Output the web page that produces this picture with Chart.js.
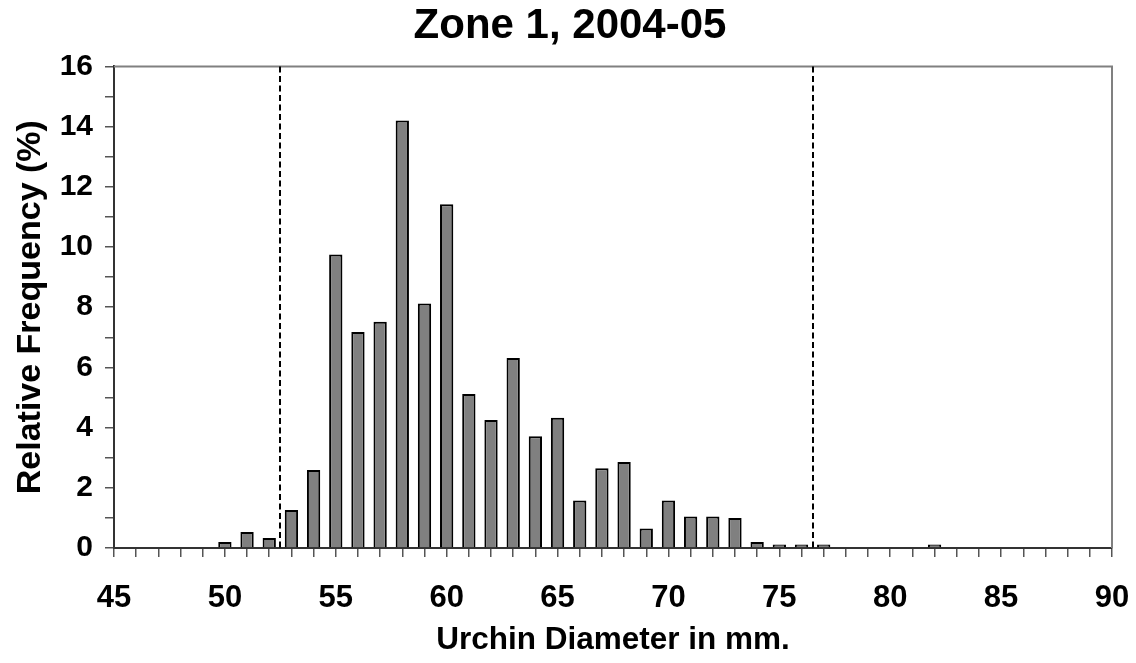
<!DOCTYPE html>
<html>
<head>
<meta charset="utf-8">
<script src="https://cdn.jsdelivr.net/npm/chart.js@4"></script>
<style>
  html, body { margin: 0; padding: 0; background: #fff; }
  #wrap { width: 1136px; height: 663px; }
</style>
</head>
<body>
<div id="wrap"><canvas id="sizeChart"></canvas></div>
<script>
// Urchin diameters (mm) and relative frequency (%)
const diameters = [50,51,52,53,54,55,56,57,58,59,60,61,62,63,64,65,66,67,68,69,70,71,72,73,74,75,76,77,82];
const freq = [0.2,0.53,0.33,1.26,2.59,9.75,7.18,7.52,14.2,8.12,11.42,5.12,4.25,6.31,3.71,4.33,1.58,2.65,2.86,0.65,1.58,1.05,1.05,1.0,0.2,0.12,0.12,0.12,0.12];
// dashed cut-off lines
const cutoffs = [52.5, 76.5];
const xRange = [45, 90];
const yRange = [0, 16];

const FONT = "'Liberation Sans', Arial, sans-serif";

// frame + dashed lines
const extras = {
  id: "extras",
  beforeDatasetsDraw(chart) {
    const {ctx, chartArea: a} = chart;
    ctx.save();
    ctx.strokeStyle = "#808080";
    ctx.lineWidth = 2;
    ctx.beginPath();
    ctx.moveTo(a.left, a.top);
    ctx.lineTo(a.right, a.top);
    ctx.lineTo(a.right, a.bottom);
    ctx.stroke();
    ctx.restore();
  },
  afterDatasetsDraw(chart) {
    const {ctx, chartArea: a, scales} = chart;
    ctx.save();
    ctx.strokeStyle = "#000";
    ctx.lineWidth = 2;
    ctx.setLineDash([6, 3.5]);
    cutoffs.forEach(v => {
      const x = Math.round(scales.x.getPixelForValue(v));
      ctx.beginPath();
      ctx.moveTo(x, a.top);
      ctx.lineTo(x, a.bottom);
      ctx.stroke();
    });
    ctx.restore();
  }
};

new Chart(document.getElementById("sizeChart"), {
  type: "bar",
  data: {
    datasets: [{
      data: diameters.map((d, i) => ({x: d, y: freq[i]})),
      backgroundColor: "#808080",
      borderColor: "#000",
      borderWidth: 2,
      borderSkipped: "bottom",
      categoryPercentage: 1,
      barPercentage: 0.6
    }]
  },
  options: {
    responsive: true,
    maintainAspectRatio: false,
    animation: false,
    layout: { padding: { left: 10, right: 6, top: 0, bottom: 0 } },
    plugins: {
      legend: { display: false },
      tooltip: { enabled: false },
      title: {
        display: true,
        text: "Zone 1, 2004-05",
        color: "#000",
        font: { family: FONT, size: 42, weight: "bold" },
        padding: { top: 1, bottom: 15 }
      }
    },
    scales: {
      x: {
        type: "linear",
        min: xRange[0],
        max: xRange[1],
        offset: false,
        afterFit(s) {
          s.height = 115;
          s.paddingLeft = 0;
          s.paddingRight = 24;
        },
        border: { display: true, color: "#333", width: 2 },
        grid: { display: true, drawOnChartArea: false, drawTicks: true, tickLength: 9, color: "#555", lineWidth: 1.5, offset: false },
        ticks: {
          stepSize: 1,
          autoSkip: false,
          maxRotation: 0,
          color: "#000",
          padding: 23,
          font: { family: FONT, size: 31, weight: "bold" },
          callback: v => (v % 5 === 0 ? v : "")
        },
        title: {
          display: true,
          text: "Urchin Diameter in mm.",
          color: "#000",
          font: { family: FONT, size: 31.5, weight: "bold" },
          padding: { top: 4, bottom: 4 }
        }
      },
      y: {
        min: yRange[0],
        max: yRange[1],
        afterFit(s) { s.width = 104; },
        border: { display: true, color: "#333", width: 2 },
        grid: { display: true, drawOnChartArea: false, drawTicks: true, tickLength: 9, color: "#555", lineWidth: 1.5 },
        ticks: {
          stepSize: 1,
          autoSkip: false,
          color: "#000",
          padding: 12,
          font: { family: FONT, size: 30, weight: "bold" },
          callback: v => (v % 2 === 0 ? v : "")
        },
        title: {
          display: true,
          text: "Relative Frequency (%)",
          color: "#000",
          font: { family: FONT, size: 34, weight: "bold" },
          padding: { top: 0, bottom: 4 }
        }
      }
    }
  },
  plugins: [extras]
});
</script>
</body>
</html>
